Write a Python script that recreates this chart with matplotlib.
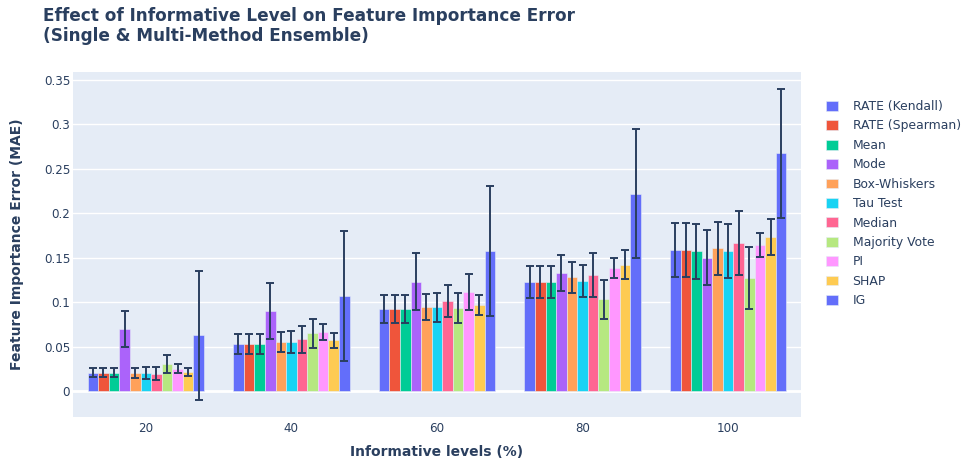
import matplotlib
matplotlib.use("Agg")
import matplotlib.pyplot as plt
import numpy as np

plt.rcParams["font.family"] = ["DejaVu Sans"]

levels = ["20", "40", "60", "80", "100"]
methods = ["RATE (Kendall)", "RATE (Spearman)", "Mean", "Mode", "Box-Whiskers",
           "Tau Test", "Median", "Majority Vote", "PI", "SHAP", "IG"]

kendall      = [0.0207, 0.0534, 0.0925, 0.1228, 0.1591]
kendall_err  = [0.0050, 0.0113, 0.0155, 0.0177, 0.0305]
spearman     = [0.0207, 0.0534, 0.0925, 0.1228, 0.1591]
spearman_err = [0.0050, 0.0113, 0.0155, 0.0177, 0.0305]
mean_        = [0.0207, 0.0534, 0.0928, 0.1228, 0.1572]
mean_err     = [0.0050, 0.0113, 0.0155, 0.0177, 0.0310]
mode         = [0.0700, 0.0900, 0.1234, 0.1332, 0.1500]
mode_err     = [0.0205, 0.0315, 0.0320, 0.0200, 0.0310]
box          = [0.0207, 0.0557, 0.0952, 0.1283, 0.1606]
box_err      = [0.0060, 0.0115, 0.0145, 0.0175, 0.0297]
tau          = [0.0207, 0.0553, 0.0944, 0.1238, 0.1576]
tau_err      = [0.0065, 0.0120, 0.0165, 0.0180, 0.0300]
median       = [0.0200, 0.0583, 0.1016, 0.1306, 0.1667]
median_err   = [0.0070, 0.0150, 0.0180, 0.0250, 0.0355]
majority     = [0.0308, 0.0651, 0.0933, 0.1035, 0.1272]
majority_err = [0.0100, 0.0160, 0.0170, 0.0220, 0.0348]
pi           = [0.0256, 0.0662, 0.1114, 0.1385, 0.1648]
pi_err       = [0.0050, 0.0090, 0.0205, 0.0110, 0.0135]
shap         = [0.0218, 0.0576, 0.0970, 0.1422, 0.1735]
shap_err     = [0.0045, 0.0085, 0.0110, 0.0165, 0.0200]
ig           = [0.0628, 0.1069, 0.1580, 0.2223, 0.2675]
ig_err       = [0.0728, 0.0728, 0.0730, 0.0727, 0.0726]

values = [kendall, spearman, mean_, mode, box, tau, median, majority, pi, shap, ig]
errors = [kendall_err, spearman_err, mean_err, mode_err, box_err, tau_err,
          median_err, majority_err, pi_err, shap_err, ig_err]

colors = ["#636EFA", "#EF553B", "#00CC96", "#AB63FA", "#FFA15A", "#19D3F3",
          "#FF6692", "#B6E880", "#FF97FF", "#FECB52", "#636EFA"]
TXT = "#2a3f5f"

W, H = 971, 468
fig = plt.figure(figsize=(W / 100, H / 100), dpi=100)
ax = fig.add_axes([73 / W, 1 - 417 / H, (801 - 73) / W, (417 - 72) / H])
ax.set_facecolor("#E5ECF6")

x = np.arange(len(levels))
n = len(methods)
w = 0.8 / n
handles = []
for i, (name, v, e, c) in enumerate(zip(methods, values, errors, colors)):
    pos = x - 0.4 + w * (i + 0.5)
    b = ax.bar(pos, v, w, color=c, edgecolor="#E5ECF6", linewidth=0.4,
               label=name, zorder=2)
    ax.errorbar(pos, v, yerr=e, fmt="none", ecolor=TXT, elinewidth=1.4,
                capsize=3.2, capthick=1.4, zorder=3)
    handles.append(b)

ax.set_xlim(-0.5, len(levels) - 0.5)
ax.set_ylim(-0.0289, 0.359)
yt = np.arange(0, 0.351, 0.05)
ax.set_yticks(yt)
ax.set_yticklabels(["0", "0.05", "0.1", "0.15", "0.2", "0.25", "0.3", "0.35"])
ax.set_xticks(x)
ax.set_xticklabels(levels)
ax.tick_params(length=0, labelsize=8.6, colors=TXT)
ax.tick_params(axis="y", pad=2)
ax.tick_params(axis="x", pad=3.5)
ax.grid(axis="y", color="white", lw=1, zorder=0)
ax.axhline(0, color="white", lw=2, zorder=1)
ax.set_axisbelow(True)
for s in ax.spines.values():
    s.set_visible(False)

# axis titles placed in figure pixels
fig.text(437 / W, 1 - 452 / H, "Informative levels (%)", fontsize=10,
         fontweight="bold", color=TXT, ha="center", va="center")
fig.text(17 / W, 1 - 244 / H, "Feature Importance Error (MAE)", fontsize=10,
         fontweight="bold", color=TXT, ha="center", va="center", rotation=90)

fig.text(43 / W, 1 - 7 / H,
         "Effect of Informative Level on Feature Importance Error\n(Single & Multi-Method Ensemble)",
         fontsize=12.2, fontweight="bold", color=TXT, ha="left", va="top",
         linespacing=1.15)

leg = fig.legend(handles=handles, loc="upper left",
                 bbox_to_anchor=(826 / W, 1 - 100 / H),
                 frameon=False, fontsize=8.9, handlelength=1.0, handleheight=0.85,
                 handletextpad=1.15, labelspacing=0.52, borderpad=0, borderaxespad=0)
for t in leg.get_texts():
    t.set_color(TXT)

fig.savefig("out.png", dpi=100)
